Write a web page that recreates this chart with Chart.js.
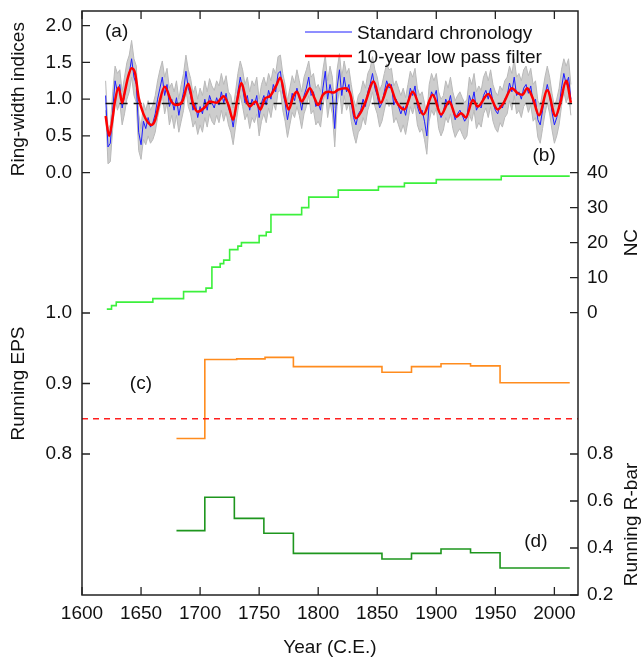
<!DOCTYPE html>
<html>
<head>
<meta charset="utf-8">
<title>Ring-width chronology</title>
<script src="https://cdn.jsdelivr.net/npm/chart.js@4.4.1/dist/chart.umd.min.js"></script>
<style>
  html, body { margin: 0; padding: 0; background: #fff; }
  #wrap { width: 641px; height: 657px; }
</style>
</head>
<body>
<div id="wrap"><canvas id="chart" width="641" height="657"></canvas></div>
<script>
// (a) standard chronology, one value every second year from 1620
const chronStart = 1620;
const chronStep = 2;
const stdChronology = [
  1.05, 0.35, 0.40, 0.85, 1.25, 1.10, 1.20, 0.88, 1.05, 1.25,
  1.35, 1.55, 1.30, 1.20, 0.55, 0.38, 0.70, 0.60, 0.75, 0.62,
  0.68, 0.80, 1.00, 1.15, 1.30, 1.05, 1.20, 0.90, 1.00, 0.85,
  1.02, 0.78, 0.95, 1.10, 1.38, 1.15, 1.05, 0.85, 0.95, 0.75,
  0.90, 0.80, 1.00, 0.85, 1.05, 0.95, 0.88, 1.02, 0.92, 1.10,
  0.95, 1.08, 0.88, 0.80, 0.62, 0.85, 1.10, 1.30, 1.15, 0.95,
  1.05, 0.85, 1.00, 0.92, 1.05, 0.75, 0.95, 1.05, 0.92, 1.12,
  1.00, 1.20, 1.10, 1.35, 1.38, 1.10, 0.95, 0.72, 0.90, 1.08,
  0.98, 1.15, 1.02, 0.85, 1.05, 1.15, 1.30, 1.05, 1.10, 0.90,
  0.95, 0.85, 1.15, 1.38, 1.00, 1.20, 1.05, 0.60, 1.15, 1.40,
  1.05, 1.30, 1.10, 1.20, 0.95, 0.75, 0.65, 0.80, 0.85, 1.00,
  0.90, 1.10, 1.20, 1.35, 1.15, 1.05, 0.88, 0.95, 1.10, 1.25,
  1.15, 1.20, 0.92, 1.00, 0.90, 0.80, 0.90, 0.78, 0.95, 1.15,
  1.05, 1.18, 0.90, 0.80, 0.85, 0.70, 0.50, 0.95, 1.10, 1.02,
  1.12, 0.85, 0.75, 0.82, 1.00, 0.92, 1.05, 0.85, 0.72, 0.80,
  0.85, 0.78, 0.70, 0.75, 1.05, 0.95, 1.10, 0.85, 0.92, 0.88,
  1.05, 1.12, 1.00, 1.15, 0.95, 0.85, 0.80, 0.92, 0.88, 1.00,
  1.05, 1.22, 1.10, 1.30, 1.05, 1.10, 1.00, 1.15, 1.20, 1.08,
  1.18, 0.95, 1.00, 0.72, 0.65, 0.85, 1.05, 1.20, 1.05, 0.82,
  0.65, 0.75, 0.90, 1.15, 1.35, 1.20, 1.30, 1.00
];
// grey envelope round the chronology, same years
const bandUpper = [
  1.25, 0.60, 0.65, 1.10, 1.45, 1.35, 1.40, 1.10, 1.30, 1.50,
  1.60, 1.80, 1.55, 1.45, 0.80, 0.60, 0.95, 0.85, 0.98, 0.85,
  0.92, 1.05, 1.25, 1.40, 1.52, 1.30, 1.42, 1.15, 1.22, 1.10,
  1.25, 1.00, 1.20, 1.35, 1.60, 1.40, 1.28, 1.08, 1.18, 1.00,
  1.15, 1.05, 1.25, 1.10, 1.28, 1.18, 1.12, 1.25, 1.18, 1.35,
  1.20, 1.32, 1.10, 1.05, 0.88, 1.10, 1.35, 1.52, 1.40, 1.20,
  1.30, 1.10, 1.25, 1.18, 1.30, 1.00, 1.20, 1.30, 1.18, 1.35,
  1.25, 1.42, 1.35, 1.58, 1.60, 1.35, 1.20, 0.98, 1.15, 1.32,
  1.22, 1.40, 1.25, 1.10, 1.30, 1.40, 1.52, 1.30, 1.35, 1.15,
  1.20, 1.10, 1.40, 1.60, 1.25, 1.45, 1.30, 0.88, 1.40, 1.62,
  1.30, 1.52, 1.35, 1.42, 1.20, 1.00, 0.90, 1.05, 1.10, 1.25,
  1.15, 1.35, 1.42, 1.58, 1.40, 1.30, 1.12, 1.20, 1.35, 1.48,
  1.40, 1.42, 1.18, 1.25, 1.15, 1.05, 1.15, 1.02, 1.20, 1.38,
  1.30, 1.42, 1.15, 1.05, 1.10, 0.95, 0.78, 1.20, 1.35, 1.25,
  1.35, 1.10, 1.00, 1.05, 1.25, 1.15, 1.30, 1.10, 0.98, 1.05,
  1.10, 1.02, 0.95, 1.00, 1.30, 1.20, 1.35, 1.10, 1.18, 1.12,
  1.30, 1.38, 1.25, 1.40, 1.20, 1.10, 1.05, 1.18, 1.12, 1.25,
  1.30, 1.45, 1.35, 1.55, 1.30, 1.35, 1.25, 1.40, 1.45, 1.32,
  1.42, 1.20, 1.25, 0.98, 0.90, 1.10, 1.30, 1.45, 1.30, 1.08,
  0.90, 1.00, 1.15, 1.40, 1.55, 1.45, 1.55, 1.20
];
const bandLower = [
  0.85, 0.12, 0.15, 0.60, 1.02, 0.85, 0.95, 0.65, 0.80, 1.00,
  1.10, 1.30, 1.05, 0.95, 0.30, 0.18, 0.45, 0.38, 0.50, 0.40,
  0.45, 0.55, 0.75, 0.90, 1.05, 0.80, 0.95, 0.65, 0.78, 0.60,
  0.78, 0.55, 0.70, 0.85, 1.12, 0.90, 0.80, 0.62, 0.70, 0.52,
  0.65, 0.55, 0.75, 0.62, 0.80, 0.70, 0.65, 0.78, 0.68, 0.85,
  0.70, 0.82, 0.65, 0.55, 0.38, 0.62, 0.85, 1.05, 0.90, 0.72,
  0.80, 0.60, 0.75, 0.68, 0.80, 0.50, 0.70, 0.80, 0.68, 0.88,
  0.75, 0.95, 0.85, 1.10, 1.12, 0.85, 0.70, 0.48, 0.65, 0.82,
  0.75, 0.90, 0.78, 0.60, 0.80, 0.90, 1.05, 0.80, 0.85, 0.65,
  0.70, 0.62, 0.90, 1.12, 0.75, 0.95, 0.80, 0.35, 0.90, 1.15,
  0.80, 1.05, 0.85, 0.95, 0.70, 0.52, 0.40, 0.55, 0.60, 0.75,
  0.65, 0.85, 0.95, 1.10, 0.90, 0.80, 0.62, 0.70, 0.85, 1.00,
  0.90, 0.95, 0.68, 0.75, 0.65, 0.55, 0.65, 0.52, 0.70, 0.90,
  0.80, 0.92, 0.65, 0.55, 0.60, 0.45, 0.25, 0.70, 0.85, 0.78,
  0.88, 0.60, 0.50, 0.58, 0.75, 0.68, 0.80, 0.60, 0.48, 0.55,
  0.60, 0.52, 0.45, 0.50, 0.80, 0.70, 0.85, 0.60, 0.68, 0.62,
  0.80, 0.88, 0.75, 0.90, 0.70, 0.60, 0.55, 0.68, 0.62, 0.75,
  0.80, 0.98, 0.85, 1.05, 0.80, 0.85, 0.75, 0.90, 0.95, 0.82,
  0.92, 0.70, 0.75, 0.48, 0.40, 0.60, 0.80, 0.95, 0.80, 0.58,
  0.40, 0.50, 0.65, 0.90, 1.10, 0.95, 1.05, 0.78
];
// 10-year low pass filter, read at its turning points
const lowPassYears = [1620, 1623, 1626, 1628, 1631, 1634, 1636, 1639, 1642, 1645,
  1648, 1652, 1656, 1659, 1662, 1665, 1670, 1676, 1680, 1685,
  1690, 1694, 1698, 1704, 1708, 1714, 1720, 1724, 1728, 1731,
  1735, 1739, 1742, 1747, 1751, 1755, 1759, 1764, 1768, 1772,
  1775, 1779, 1782, 1786, 1789, 1793, 1797, 1800, 1804, 1809,
  1813, 1817, 1823, 1827, 1832, 1836, 1840, 1847, 1853, 1860,
  1866, 1873, 1880, 1889, 1897, 1904, 1911, 1917, 1921, 1925,
  1931, 1935, 1944, 1952, 1957, 1964, 1969, 1973, 1977, 1982,
  1987, 1994, 2001, 2005, 2010, 2014];
const lowPassValues = [0.77, 0.50, 0.75, 0.98, 1.16, 0.95, 1.08, 1.30, 1.42, 1.35,
  1.02, 0.80, 0.68, 0.65, 0.72, 0.92, 1.17, 0.96, 0.92, 0.97,
  1.21, 0.94, 0.83, 0.89, 0.97, 0.95, 1.04, 0.92, 0.72, 0.95,
  1.22, 0.99, 0.90, 0.97, 0.86, 1.01, 1.04, 1.17, 1.29, 1.01,
  0.86, 1.04, 1.10, 0.97, 1.04, 1.15, 1.01, 0.92, 1.06, 1.10,
  1.09, 1.13, 1.15, 1.08, 0.74, 0.82, 0.96, 1.24, 0.95, 1.20,
  0.97, 0.86, 1.10, 0.79, 1.06, 0.79, 0.97, 0.76, 0.81, 0.75,
  0.99, 0.90, 1.07, 0.86, 0.95, 1.15, 1.08, 1.06, 1.15, 1.00,
  0.78, 1.12, 0.77, 0.95, 1.25, 0.95];
const meanSpan = [1620, 2015];
const meanIndex = 0.94;

// (b) number of cores
const ncYears = [1621, 1625, 1629, 1660, 1686, 1705, 1710, 1717, 1720, 1725, 1732, 1735,
  1750, 1756, 1760, 1786, 1792, 1817, 1851, 1873, 1900, 1955, 2013];
const ncValues = [1, 2, 3, 4, 6, 7, 13, 14, 15, 18, 19, 20,
  22, 23, 28, 30, 33, 35, 36, 37, 38, 39, 39];

// (c) running EPS
const epsYears = [1680, 1704, 1731, 1755, 1779, 1854, 1879, 1904, 1929, 1954, 2013];
const epsValues = [0.822, 0.934, 0.935, 0.937, 0.924, 0.916, 0.924, 0.928, 0.925, 0.901, 0.901];
const epsSpan = [1600, 2020];
const epsThreshold = 0.85;

// (d) running R-bar
const rbarYears = [1680, 1704, 1729, 1754, 1779, 1854, 1879, 1904, 1929, 1954, 2013];
const rbarValues = [0.474, 0.616, 0.526, 0.463, 0.377, 0.353, 0.377, 0.396, 0.380, 0.315, 0.315];

// axes
const xTicks = [1600, 1650, 1700, 1750, 1800, 1850, 1900, 1950, 2000];
const ringTicks = [0, 0.5, 1, 1.5, 2];
const ncTicks = [0, 10, 20, 30, 40];
const epsTicks = [0.8, 0.9, 1.0];
const rbarTicks = [0.2, 0.4, 0.6, 0.8];

// panel letters: [text, year, axis, value]
const panelLabels = [
  ['(a)', 1619.5, 'yRing', 1.84],
  ['(b)', 1981.5, 'yNC', 43.3],
  ['(c)', 1640.5, 'yEps', 0.892],
  ['(d)', 1974.5, 'yRbar', 0.404]
];

const chronYears = stdChronology.map((_, i) => chronStart + i * chronStep);
const pts = (xs, ys) => xs.map((x, i) => ({ x: x, y: ys[i] }));

Chart.defaults.font.family = "'Liberation Sans', Arial, sans-serif";
Chart.defaults.font.size = 19;
Chart.defaults.color = '#111';

function fixTicks(list) {
  return scale => { scale.ticks = list.map(v => ({ value: v })); };
}

// fixed box sizes, and no extra room kept for half tick labels
function boxSize(w, h) {
  return s => {
    if (w) s.width = w;
    if (h) s.height = h;
    s.paddingTop = 0;
    s.paddingBottom = 0;
    s.paddingLeft = 0;
    s.paddingRight = 0;
  };
}

const frameAndLabels = {
  id: 'frameAndLabels',
  afterDatasetsDraw(chart) {
    const { ctx, chartArea: a, scales } = chart;
    ctx.save();

    // box round the plot
    ctx.strokeStyle = '#222';
    ctx.lineWidth = 1.5;
    ctx.strokeRect(a.left, a.top, a.right - a.left, a.bottom - a.top);

    // tick marks pointing inwards
    ctx.lineWidth = 1.3;
    ctx.beginPath();
    Object.values(scales).forEach(s => {
      s.ticks.forEach(t => {
        const p = s.getPixelForValue(t.value);
        if (s.isHorizontal()) {
          ctx.moveTo(p, a.bottom); ctx.lineTo(p, a.bottom - 8);
          ctx.moveTo(p, a.top); ctx.lineTo(p, a.top + 8);
        } else if (s.position === 'left') {
          ctx.moveTo(a.left, p); ctx.lineTo(a.left + 8, p);
        } else {
          ctx.moveTo(a.right, p); ctx.lineTo(a.right - 8, p);
        }
      });
    });
    ctx.stroke();

    // y axis titles, read bottom to top on both sides
    ctx.fillStyle = '#111';
    ctx.font = "19px 'Liberation Sans', Arial, sans-serif";
    ctx.textAlign = 'center';
    ctx.textBaseline = 'alphabetic';
    Object.values(scales).forEach(s => {
      if (s.isHorizontal()) return;
      const first = s.getPixelForValue(s.ticks[0].value);
      const last = s.getPixelForValue(s.ticks[s.ticks.length - 1].value);
      const x = s.position === 'left' ? 24 : 637;
      ctx.save();
      ctx.translate(x, (first + last) / 2);
      ctx.rotate(-Math.PI / 2);
      ctx.fillText(s.options.title.text, 0, 0);
      ctx.restore();
    });

    // panel letters
    ctx.textAlign = 'left';
    panelLabels.forEach(([txt, yr, axis, v]) => {
      ctx.fillText(txt, scales.x.getPixelForValue(yr), scales[axis].getPixelForValue(v));
    });

    // legend for the two chronology lines
    const legendSets = chart.data.datasets.filter(d => d.inLegend);
    legendSets.sort((p, q) => p.legendRow - q.legendRow);
    legendSets.forEach((d, i) => {
      const y = a.top + 21 + i * 24;
      ctx.strokeStyle = d.borderColor;
      ctx.lineWidth = d.borderWidth;
      ctx.beginPath();
      ctx.moveTo(a.left + 223, y);
      ctx.lineTo(a.left + 270, y);
      ctx.stroke();
      ctx.fillText(d.label, a.left + 275, y + 6.5);
    });
    ctx.restore();
  }
};

new Chart(document.getElementById('chart'), {
  type: 'line',
  data: {
    datasets: [
      {
        label: '10-year low pass filter',
        data: pts(lowPassYears, lowPassValues),
        yAxisID: 'yRing',
        borderColor: 'rgb(255,0,0)',
        borderWidth: 2.5,
        cubicInterpolationMode: 'monotone',
        inLegend: true,
        legendRow: 1
      },
      {
        label: 'Mean',
        data: pts(meanSpan, [meanIndex, meanIndex]),
        yAxisID: 'yRing',
        borderColor: '#111',
        borderWidth: 1.5,
        borderDash: [8, 6]
      },
      {
        label: 'Standard chronology',
        data: pts(chronYears, stdChronology),
        yAxisID: 'yRing',
        borderColor: 'rgb(30,30,255)',
        borderWidth: 1,
        inLegend: true,
        legendRow: 0
      },
      {
        label: 'Upper',
        data: pts(chronYears, bandUpper),
        yAxisID: 'yRing',
        borderColor: 'rgb(185,185,185)',
        borderWidth: 1,
        fill: false
      },
      {
        label: 'Lower',
        data: pts(chronYears, bandLower),
        yAxisID: 'yRing',
        borderColor: 'rgb(185,185,185)',
        borderWidth: 1,
        backgroundColor: 'rgb(205,205,205)',
        fill: '-1'
      },
      {
        label: 'NC',
        data: pts(ncYears, ncValues),
        yAxisID: 'yNC',
        borderColor: 'rgb(60,240,60)',
        borderWidth: 1.6,
        stepped: 'before'
      },
      {
        label: 'EPS threshold',
        data: pts(epsSpan, [epsThreshold, epsThreshold]),
        yAxisID: 'yEps',
        borderColor: 'rgb(255,30,30)',
        borderWidth: 1.6,
        borderDash: [6, 5]
      },
      {
        label: 'Running EPS',
        data: pts(epsYears, epsValues),
        yAxisID: 'yEps',
        borderColor: 'rgb(255,140,30)',
        borderWidth: 1.6,
        stepped: 'before'
      },
      {
        label: 'Running R-bar',
        data: pts(rbarYears, rbarValues),
        yAxisID: 'yRbar',
        borderColor: 'rgb(30,150,30)',
        borderWidth: 1.6,
        stepped: 'before'
      }
    ]
  },
  options: {
    responsive: false,
    animation: false,
    events: [],
    elements: { point: { radius: 0 } },
    layout: { padding: { top: 11, left: 0, right: 0, bottom: 0 } },
    plugins: {
      legend: { display: false },
      tooltip: { enabled: false }
    },
    scales: {
      x: {
        type: 'linear',
        position: 'bottom',
        min: 1600,
        max: 2020,
        afterBuildTicks: fixTicks(xTicks),
        afterFit: boxSize(0, 62),
        grid: { display: false, drawTicks: false },
        border: { display: false },
        ticks: { padding: 7, maxRotation: 0, autoSkip: false, callback: v => String(v) },
        title: { display: true, text: 'Year (C.E.)', padding: { top: 0, bottom: 0 }, font: { size: 19, lineHeight: 1 } }
      },
      yEps: {
        type: 'linear',
        position: 'left',
        stack: 'left',
        stackWeight: 282,
        min: 0.6,
        max: 1.0,
        afterBuildTicks: fixTicks(epsTicks),
        afterFit: boxSize(82, 0),
        grid: { display: false, drawTicks: false },
        border: { display: false },
        ticks: { padding: 10, callback: v => v.toFixed(1) },
        title: { display: false, text: 'Running EPS' }
      },
      yRing: {
        type: 'linear',
        position: 'left',
        stack: 'left',
        stackWeight: 302,
        min: -1.91,
        max: 2.2,
        afterBuildTicks: fixTicks(ringTicks),
        afterFit: boxSize(82, 0),
        grid: { display: false, drawTicks: false },
        border: { display: false },
        ticks: { padding: 10, callback: v => v.toFixed(1) },
        title: { display: false, text: 'Ring-width indices' }
      },
      yNC: {
        type: 'linear',
        position: 'right',
        stack: 'right',
        stackWeight: 443,
        min: -40.4,
        max: 86.2,
        afterBuildTicks: fixTicks(ncTicks),
        afterFit: boxSize(63, 0),
        grid: { display: false, drawTicks: false },
        border: { display: false },
        ticks: { padding: 9, callback: v => String(v) },
        title: { display: false, text: 'NC' }
      },
      yRbar: {
        type: 'linear',
        position: 'right',
        stack: 'right',
        stackWeight: 141,
        min: 0.2,
        max: 0.8,
        afterBuildTicks: fixTicks(rbarTicks),
        afterFit: boxSize(63, 0),
        grid: { display: false, drawTicks: false },
        border: { display: false },
        ticks: { padding: 9, callback: v => v.toFixed(1) },
        title: { display: false, text: 'Running R-bar' }
      }
    }
  },
  plugins: [frameAndLabels]
});
</script>
</body>
</html>
